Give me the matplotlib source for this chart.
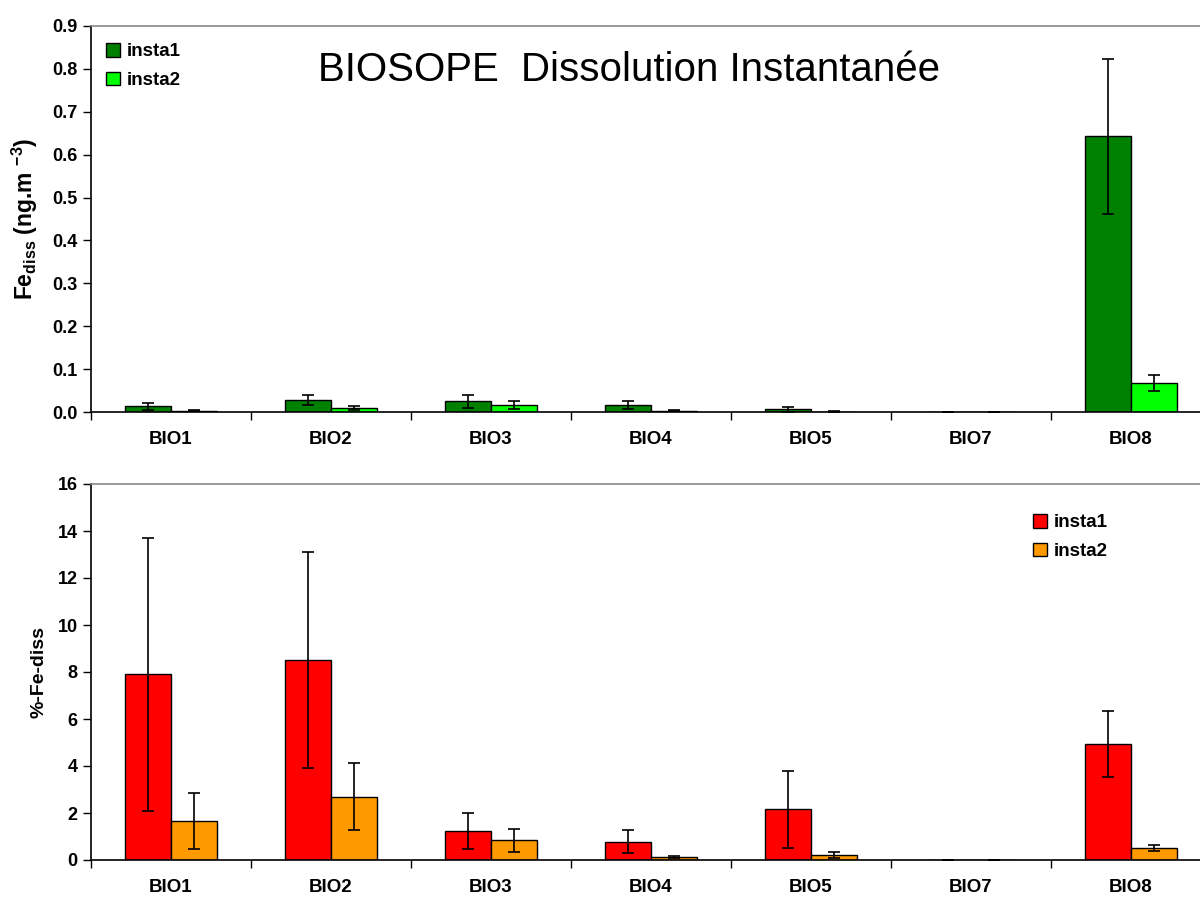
import matplotlib
matplotlib.use("Agg")
import matplotlib.pyplot as plt
import numpy as np

plt.rcParams['font.family'] = ['Liberation Sans', 'DejaVu Sans']
plt.rcParams['mathtext.fontset'] = 'custom'
plt.rcParams['mathtext.rm'] = 'Liberation Sans'
plt.rcParams['mathtext.bf'] = 'Liberation Sans:bold'

stations = ['BIO1', 'BIO2', 'BIO3', 'BIO4', 'BIO5', 'BIO7', 'BIO8']

# Fe diss (ng.m-3)
fe_insta1 = [0.013, 0.028, 0.025, 0.016, 0.006, 0.0, 0.643]
fe_insta1_err = [0.008, 0.012, 0.015, 0.009, 0.006, 0.0, 0.181]
fe_insta2 = [0.003, 0.009, 0.016, 0.003, 0.001, 0.0, 0.068]
fe_insta2_err = [0.001, 0.004, 0.009, 0.001, 0.0005, 0.0, 0.018]

# %-Fe-diss
pct_insta1 = [7.9, 8.5, 1.23, 0.78, 2.15, 0.0, 4.95]
pct_insta1_err = [5.8, 4.6, 0.75, 0.48, 1.65, 0.0, 1.4]
pct_insta2 = [1.66, 2.7, 0.84, 0.13, 0.22, 0.0, 0.51]
pct_insta2_err = [1.2, 1.42, 0.5, 0.05, 0.12, 0.0, 0.14]

fig = plt.figure(figsize=(12, 9), dpi=100)
ax1 = fig.add_axes([91 / 1200, 1 - 412 / 900, 1120 / 1200, 386 / 900])
ax2 = fig.add_axes([91 / 1200, 1 - 860 / 900, 1120 / 1200, 376 / 900])

x = np.arange(len(stations))
w = 0.29
ekw = dict(ecolor='black', elinewidth=1.2, capsize=4, capthick=1.2)


def style_axes(ax):
    ax.set_xlim(-0.5, len(stations) - 0.5)
    ax.set_xticks(np.arange(-0.5, len(stations), 1.0))
    ax.set_xticklabels([])
    ax.set_xticks(x, minor=True)
    ax.set_xticklabels(stations, minor=True, fontweight='bold', fontsize=13.5)
    ax.tick_params(axis='x', which='major', direction='out', length=6, width=1)
    ax.tick_params(axis='x', which='minor', length=0, pad=14)
    ax.tick_params(axis='y', direction='out', length=6, width=1, labelsize=13)
    for lab in ax.get_yticklabels():
        lab.set_fontweight('bold')
    ax.spines['left'].set_linewidth(1.2)
    ax.spines['bottom'].set_linewidth(1.2)
    ax.spines['top'].set_color('#888888')
    ax.spines['top'].set_linewidth(1.2)
    ax.spines['right'].set_visible(False)


ax1.bar(x - w / 2, fe_insta1, w, yerr=fe_insta1_err, color='#008000',
        edgecolor='black', linewidth=1, error_kw=ekw, label='insta1')
ax1.bar(x + w / 2, fe_insta2, w, yerr=fe_insta2_err, color='#00FF00',
        edgecolor='black', linewidth=1, error_kw=ekw, label='insta2')
ax1.set_ylim(0, 0.9)
ax1.set_yticks(np.arange(0, 0.91, 0.1))
ax1.set_yticklabels(['%.1f' % v for v in np.arange(0, 0.91, 0.1)])
style_axes(ax1)
ax1.set_ylabel(r'$\mathbf{Fe_{diss}}$ (ng.m $^{\mathbf{-3}}$)', fontsize=16.5,
               fontweight='bold', labelpad=9)
ax1.text(0.480, 0.885, 'BIOSOPE  Dissolution Instantanée', transform=ax1.transAxes,
         ha='center', va='center', fontsize=29)
leg1 = ax1.legend(loc='upper left', bbox_to_anchor=(-0.002, 1.0), frameon=False,
                  prop={'weight': 'bold', 'size': 13.5}, handlelength=0.75,
                  handleheight=0.75, handletextpad=0.35, labelspacing=0.6)

ax2.bar(x - w / 2, pct_insta1, w, yerr=pct_insta1_err, color='#FF0000',
        edgecolor='black', linewidth=1, error_kw=ekw, label='insta1')
ax2.bar(x + w / 2, pct_insta2, w, yerr=pct_insta2_err, color='#FF9900',
        edgecolor='black', linewidth=1, error_kw=ekw, label='insta2')
ax2.set_ylim(0, 16)
ax2.set_yticks(np.arange(0, 17, 2))
style_axes(ax2)
ax2.set_ylabel('%-Fe-diss', fontsize=14, fontweight='bold', labelpad=7)
leg2 = ax2.legend(loc='upper left', bbox_to_anchor=(0.826, 0.965), frameon=False,
                  prop={'weight': 'bold', 'size': 13.5}, handlelength=0.75,
                  handleheight=0.75, handletextpad=0.35, labelspacing=0.6)

fig.savefig('out.png', dpi=100)
